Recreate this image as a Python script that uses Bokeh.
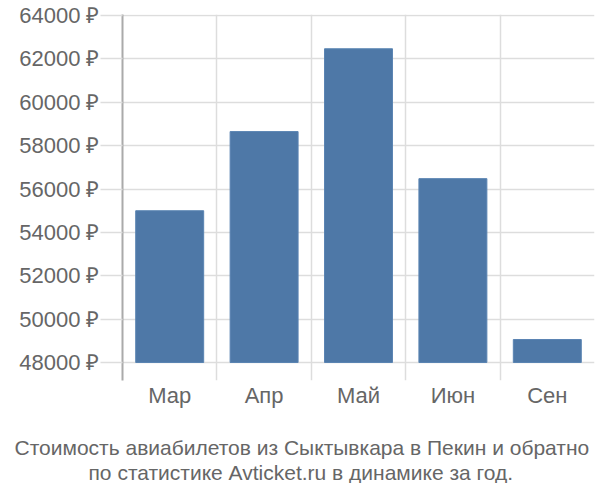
from bokeh.plotting import figure
from bokeh.models import FixedTicker, Title, Range1d, ColumnDataSource
from bokeh.embed import file_html
from bokeh.resources import INLINE

months = ["Мар", "Апр", "Май", "Июн", "Сен"]
prices = [55000, 58650, 62470, 56480, 49060]
y_ticks = [48000, 50000, 52000, 54000, 56000, 58000, 60000, 62000, 64000]
title_lines = ["Стоимость авиабилетов из Сыктывкара в Пекин и обратно",
               "по статистике Avticket.ru в динамике за год."]
baseline = 48000

xs = [i + 0.5 for i in range(len(months))]
src = ColumnDataSource(dict(x=xs, top=prices, bottom=[baseline] * len(prices)))

p = figure(frame_width=472, frame_height=366, output_backend="svg", toolbar_location=None,
           x_range=Range1d(0, len(months)), y_range=Range1d(47170, 64050),
           min_border_left=122, min_border_right=6, min_border_top=14, min_border_bottom=0)
p.outline_line_color = None
p.background_fill_color = "white"

p.vbar(x="x", width=0.72, top="top", bottom="bottom", source=src,
       fill_color="#4e78a7", line_color="#5a84b2", line_width=1)

# grids
p.xgrid.ticker = FixedTicker(ticks=list(range(1, len(months) + 1)))
p.xgrid.grid_line_color = "#dddddd"
p.xgrid.grid_line_width = 1.5
p.ygrid.ticker = FixedTicker(ticks=y_ticks)
p.ygrid.grid_line_color = "#dddddd"
p.ygrid.grid_line_width = 1.5

# y axis
p.yaxis.ticker = FixedTicker(ticks=y_ticks)
p.yaxis.major_label_overrides = {t: f"{t} ₽" for t in y_ticks}
p.yaxis.axis_line_color = "#aaaaaa"
p.yaxis.axis_line_width = 2
p.yaxis.major_tick_out = 22
p.yaxis.major_tick_in = 0
p.yaxis.major_tick_line_color = "#dddddd"
p.yaxis.major_tick_line_width = 1.5
p.yaxis.minor_tick_line_color = None
p.yaxis.major_label_standoff = 1
p.yaxis.major_label_text_font = "Liberation Sans"
p.yaxis.major_label_text_font_size = "22px"
p.yaxis.major_label_text_color = "#666666"

# x axis
p.xaxis.ticker = FixedTicker(ticks=xs)
p.xaxis.major_label_overrides = {x: m for x, m in zip(xs, months)}
p.xaxis.axis_line_color = None
p.xaxis.major_tick_line_color = None
p.xaxis.minor_tick_line_color = None
p.xaxis.major_label_standoff = -4
p.xaxis.major_label_text_font = "Liberation Sans"
p.xaxis.major_label_text_font_size = "22px"
p.xaxis.major_label_text_color = "#666666"

# spacer, then the two caption lines (left-aligned with offsets to centre them in the page)
p.add_layout(Title(text=" ", text_font_size="19px", standoff=0), "below")
for line, off in zip(title_lines, [-108, -34]):
    p.add_layout(Title(text=line, align="left", offset=off, text_font="Liberation Sans",
                       text_font_size="21px", text_font_style="normal",
                       text_color="#666666", standoff=0), "below")

open("out.html", "w").write(file_html(p, INLINE))
